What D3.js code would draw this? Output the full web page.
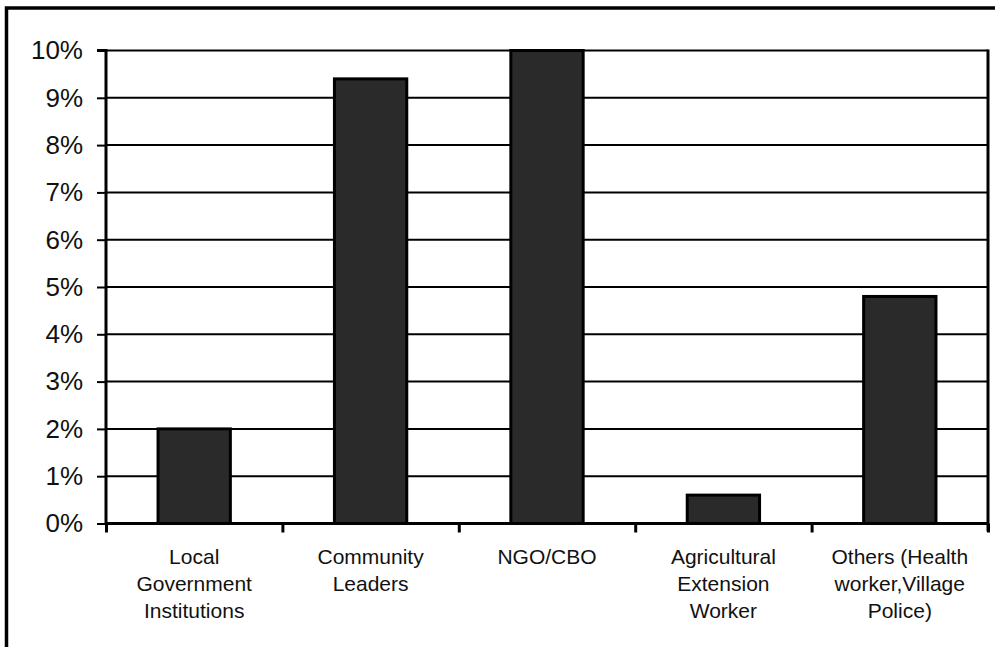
<!DOCTYPE html>
<html>
<head>
<meta charset="utf-8">
<script src="https://cdn.jsdelivr.net/npm/d3@7"></script>
<style>
  body { margin: 0; background: #fff; }
  svg { display: block; font-family: 'Liberation Sans', Arial, sans-serif; }
</style>
</head>
<body>
<svg id="chart" width="995" height="647"></svg>
<script>
const categories = [
  ['Local', 'Government', 'Institutions'],
  ['Community', 'Leaders'],
  ['NGO/CBO'],
  ['Agricultural', 'Extension', 'Worker'],
  ['Others (Health', 'worker,Village', 'Police)'],
];
const values = [2.0, 9.4, 10.0, 0.6, 4.8];
const yTicks = [0, 1, 2, 3, 4, 5, 6, 7, 8, 9, 10];

const width = 995, height = 647;
const margin = { left: 106, right: 7, top: 50.5, bottom: 123.5 };
const svg = d3.select('#chart');

// outer frame (runs off right and bottom of picture)
svg.append('rect')
  .attr('x', 6.5).attr('y', 8)
  .attr('width', 1000).attr('height', 700)
  .attr('fill', 'none').attr('stroke', '#000').attr('stroke-width', 3.5);

const idx = values.map((d, i) => i);
const x = d3.scaleBand(idx, [margin.left, width - margin.right]).paddingInner(0.59).paddingOuter(0.295);
const xEdge = d3.scaleLinear([0, values.length], [margin.left, width - margin.right]);
const y = d3.scaleLinear([0, 10], [height - margin.bottom, margin.top]);

// gridlines
svg.append('g')
  .selectAll('line')
  .data(yTicks.filter(d => d > 0))
  .join('line')
  .attr('x1', margin.left).attr('x2', width - margin.right)
  .attr('y1', d => y(d)).attr('y2', d => y(d))
  .attr('stroke', '#000').attr('stroke-width', 2);

// right border of plot
svg.append('line')
  .attr('x1', width - margin.right).attr('x2', width - margin.right)
  .attr('y1', y(10) - 1).attr('y2', y(0) + 8)
  .attr('stroke', '#000').attr('stroke-width', 3);

// bars
svg.append('g')
  .selectAll('rect')
  .data(values)
  .join('rect')
  .attr('x', (d, i) => x(i))
  .attr('y', d => y(d))
  .attr('width', x.bandwidth())
  .attr('height', d => y(0) - y(d))
  .attr('fill', '#2a2a2a')
  .attr('stroke', '#000').attr('stroke-width', 3);

// y axis
const yAxis = svg.append('g')
  .attr('transform', `translate(${margin.left},0)`)
  .call(d3.axisLeft(y).tickValues(yTicks).tickFormat(d => d + '%').tickSize(9).tickPadding(14));
yAxis.select('.domain').attr('stroke-width', 3).attr('d', `M-9,${y(10)}H0V${y(0)}`);
yAxis.selectAll('.tick line').attr('stroke-width', 2);
yAxis.selectAll('.tick text').attr('font-size', 26).attr('font-family', 'Liberation Sans, Arial, sans-serif').attr('fill', '#111');

// x axis baseline & ticks
const xAxis = svg.append('g')
  .attr('transform', `translate(0,${y(0)})`)
  .call(d3.axisBottom(xEdge).tickValues(d3.range(values.length + 1)).tickFormat('').tickSize(9));
xAxis.select('.domain').attr('stroke-width', 3).attr('d', `M${margin.left},0H${width - margin.right}`);
xAxis.selectAll('.tick line').attr('stroke-width', 3);

// category labels
svg.append('g')
  .selectAll('text')
  .data(categories)
  .join('text')
  .attr('x', (d, i) => x(i) + x.bandwidth() / 2)
  .attr('y', y(0) + 40)
  .attr('text-anchor', 'middle')
  .attr('font-size', 21)
  .attr('fill', '#111')
  .selectAll('tspan')
  .data(d => d)
  .join('tspan')
  .attr('x', function () { return d3.select(this.parentNode).attr('x'); })
  .attr('dy', (d, i) => i ? 27 : 0)
  .text(d => d);
</script>
</body>
</html>
